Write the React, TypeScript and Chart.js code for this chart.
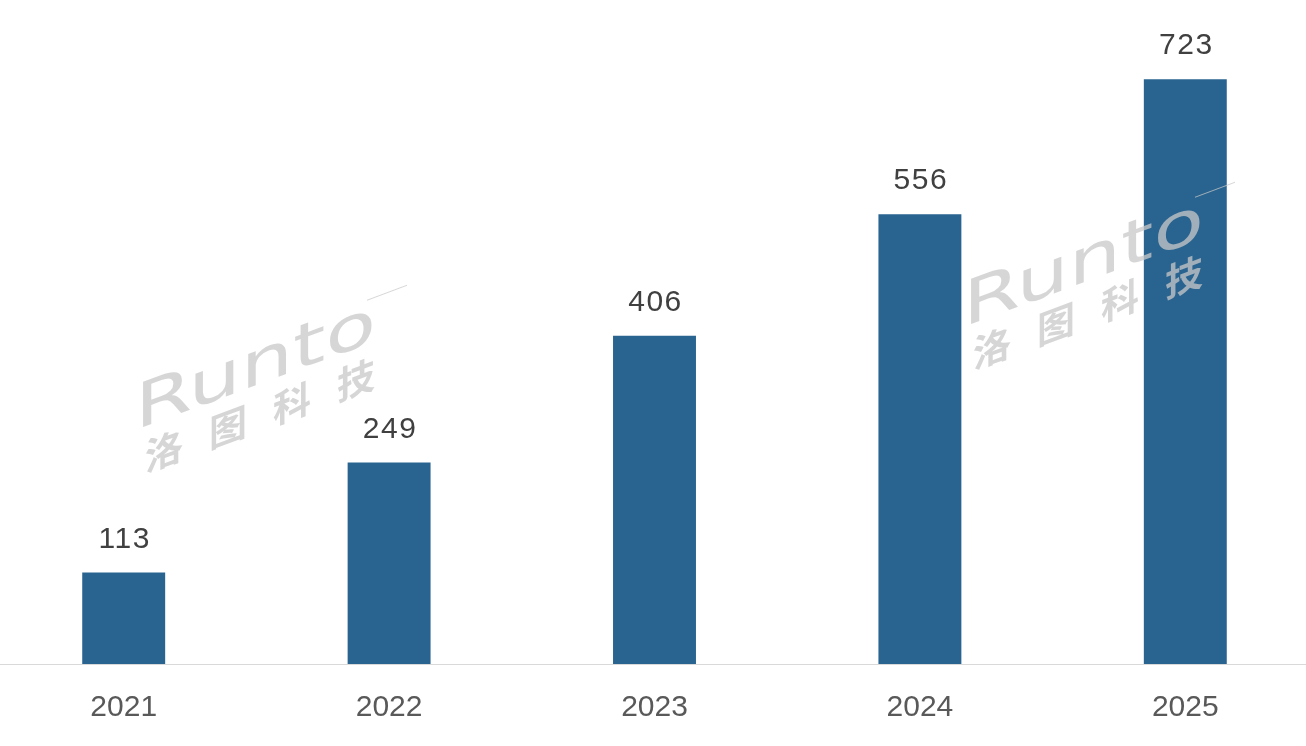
import React, { useEffect, useRef } from "react";
import { Chart, registerables } from "chart.js";

Chart.register(...registerables);

const categories = ["2021", "2022", "2023", "2024", "2025"];
const values = [113, 249, 406, 556, 723];
const watermarkLatin = "Runto";
const watermarkCJK = ["洛", "图", "科", "技"];

const BAR_COLOR = "#296490";
const SHIFT = 9;

const dataLabelPlugin = {
  id: "dataLabels",
  afterDatasetsDraw(chart: any) {
    const ctx = chart.ctx;
    const meta = chart.getDatasetMeta(0);
    ctx.save();
    ctx.font = "30px 'Liberation Sans', Arial, sans-serif";
    ctx.fillStyle = "#404040";
    ctx.textAlign = "center";
    ctx.textBaseline = "alphabetic";
    try {
      (ctx as any).letterSpacing = "1.5px";
    } catch (e) {}
    meta.data.forEach((bar: any, i: number) => {
      ctx.fillText(String(values[i]), bar.x + 1, bar.y - 25);
    });
    ctx.restore();
  },
};

const watermarkPlugin = {
  id: "watermark",
  afterDraw(chart: any) {
    const ctx = chart.ctx;
    const marks = [
      { x: 135, y: 430 },
      { x: 963, y: 327 },
    ];
    const shear = -0.37;
    marks.forEach((m) => {
      ctx.save();
      ctx.translate(m.x + SHIFT, m.y);
      ctx.transform(1, shear, 0, 1, 0, 0);
      ctx.fillStyle = "rgba(200,200,200,0.75)";
      ctx.textBaseline = "alphabetic";
      ctx.textAlign = "left";
      ctx.save();
      ctx.scale(1.33, 1);
      ctx.font = "62px 'DejaVu Sans', sans-serif";
      ctx.fillText(watermarkLatin, 0, 0);
      ctx.restore();
      ctx.strokeStyle = "rgba(200,200,200,0.75)";
      ctx.lineWidth = 1;
      ctx.beginPath();
      ctx.moveTo(232, -44);
      ctx.lineTo(272, -44);
      ctx.stroke();
      ctx.font = "bold 38px 'Noto Sans CJK SC', sans-serif";
      watermarkCJK.forEach((ch, i) => {
        ctx.fillText(ch, 10 + i * 64, 46);
      });
      ctx.restore();
    });
  },
};

export default function App() {
  const ref = useRef<HTMLCanvasElement | null>(null);
  useEffect(() => {
    document.body.style.margin = "0";
    document.body.style.overflow = "hidden";
    const canvas = ref.current!;
    const chart = new Chart(canvas, {
      type: "bar",
      data: {
        labels: categories,
        datasets: [
          {
            data: values,
            backgroundColor: BAR_COLOR,
            borderWidth: 0,
            categoryPercentage: 1,
            barPercentage: 0.3125,
          },
        ],
      },
      options: {
        responsive: false,
        animation: false,
        layout: { padding: { top: 17, bottom: 22, left: 0, right: 0 } },
        plugins: {
          legend: { display: false },
          tooltip: { enabled: false },
        },
        scales: {
          x: {
            grid: { display: false, drawTicks: false },
            border: { display: true, color: "#d9d9d9", width: 1 },
            ticks: {
              color: "#595959",
              font: { size: 30, family: "'Liberation Sans', Arial, sans-serif" },
              padding: 26,
            },
          },
          y: {
            display: false,
            min: 0,
            max: 800,
          },
        },
      },
      plugins: [dataLabelPlugin, watermarkPlugin],
    });
    return () => chart.destroy();
  }, []);
  return (
    <div
      style={{
        position: "fixed",
        left: 0,
        top: 0,
        width: 1306,
        height: 746,
        overflow: "hidden",
        background: "#fff",
      }}
    >
      <canvas
        ref={ref}
        width={1327}
        height={774}
        style={{ position: "absolute", left: -SHIFT, top: 0, width: 1327, height: 774 }}
      />
    </div>
  );
}
